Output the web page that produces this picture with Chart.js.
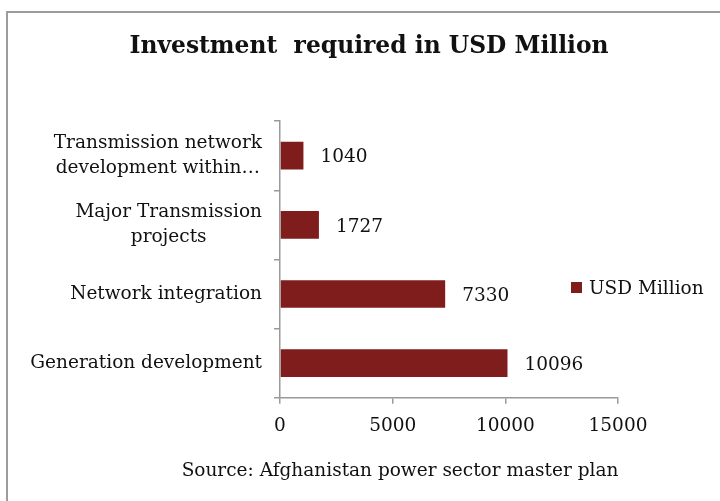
<!DOCTYPE html>
<html>
<head>
<meta charset="utf-8">
<script src="https://cdn.jsdelivr.net/npm/chart.js@4/dist/chart.umd.min.js"></script>
<style>
  html, body { margin: 0; padding: 0; background: #fff; }
  body { width: 720px; height: 501px; position: relative; overflow: hidden; font-family: "DejaVu Serif", serif; color: #111; }
  #frame { position: absolute; left: 6px; top: 11px; width: 760px; height: 540px; border-left: 2px solid #9c9c9c; border-top: 2px solid #9c9c9c; }
  #wrap { position: absolute; left: 0; top: 0; width: 720px; height: 501px; }
  #legend { position: absolute; left: 571px; top: 276px; font-size: 18.5px; line-height: 24px; white-space: nowrap; }
  #legend span.box { display: inline-block; width: 11px; height: 11px; margin-right: 7px; vertical-align: 1px; }
  #source { position: absolute; left: 0; width: 800px; top: 459px; text-align: center; font-size: 18.5px; }
</style>
</head>
<body>
<div id="frame"></div>
<div id="wrap"><canvas id="chart" width="720" height="501"></canvas></div>
<div id="legend"></div>
<div id="source">Source: Afghanistan power sector master plan</div>
<script>
const titleText = 'Investment  required in USD Million';
const seriesName = 'USD Million';
const categories = [
  ['Transmission network', 'development within…'],
  ['Major Transmission', 'projects'],
  'Network integration',
  'Generation development'
];
const investment = [1040, 1727, 7330, 10096];
const xTicks = [0, 5000, 10000, 15000];

const barColor = '#7f1c1c';
const axisColor = '#9a9a9a';
const serif = '"DejaVu Serif", serif';
const labelFont = '18.5px ' + serif;

// value written just past the end of each bar
const barValues = {
  id: 'barValues',
  afterDatasetsDraw(chart) {
    const ctx = chart.ctx;
    ctx.save();
    ctx.font = labelFont;
    ctx.fillStyle = '#111';
    ctx.textAlign = 'left';
    ctx.textBaseline = 'middle';
    chart.getDatasetMeta(0).data.forEach((bar, i) => {
      ctx.fillText(String(chart.data.datasets[0].data[i]), bar.x + 17, bar.y + 2);
    });
    ctx.restore();
  }
};

// category names: block sits right against the axis, lines centred inside the block
const categoryLabels = {
  id: 'categoryLabels',
  afterDraw(chart) {
    const scale = chart.scales.y;
    const ctx = chart.ctx;
    const lineH = 25;
    ctx.save();
    ctx.font = labelFont;
    ctx.fillStyle = '#111';
    ctx.textAlign = 'center';
    ctx.textBaseline = 'middle';
    chart.data.labels.forEach((label, i) => {
      const lines = Array.isArray(label) ? label : [label];
      const w = Math.max(...lines.map(s => ctx.measureText(s).width));
      const right = scale.right - 18;
      const cx = right - w / 2;
      const cy = scale.getPixelForValue(i);
      lines.forEach((s, k) => {
        ctx.fillText(s, cx, cy + (k - (lines.length - 1) / 2) * lineH);
      });
    });
    ctx.restore();
  }
};

const chart = new Chart(document.getElementById('chart'), {
  type: 'bar',
  data: {
    labels: categories,
    datasets: [{
      label: seriesName,
      data: investment,
      backgroundColor: barColor,
      borderWidth: 0,
      categoryPercentage: 1,
      barPercentage: 0.4
    }]
  },
  options: {
    indexAxis: 'y',
    responsive: false,
    animation: false,
    layout: { padding: { left: 18, right: 0, top: 0, bottom: 53 } },
    plugins: {
      legend: { display: false },
      tooltip: { enabled: false },
      title: {
        display: true,
        text: titleText,
        color: '#111',
        font: { family: serif, size: 23.4, weight: 'bold' },
        padding: { top: 33, bottom: 60 }
      }
    },
    scales: {
      x: {
        min: 0,
        max: 15000,
        afterBuildTicks(scale) { scale.ticks = xTicks.map(v => ({ value: v })); },
        afterFit(scale) { scale.paddingRight = 102; },
        grid: { drawOnChartArea: false, tickLength: 6, color: axisColor, lineWidth: 1.5 },
        border: { color: axisColor, width: 1.5 },
        ticks: {
          color: '#111',
          padding: 11,
          font: { family: serif, size: 18.5 },
          callback: v => String(v)
        }
      },
      y: {
        afterFit(scale) { scale.width = 262; },
        grid: { drawOnChartArea: false, offset: true, tickLength: 6, color: axisColor, lineWidth: 1.5 },
        border: { color: axisColor, width: 1.5 },
        ticks: { display: false }
      }
    }
  },
  plugins: [barValues, categoryLabels]
});

// legend entry built from the dataset
const ds = chart.data.datasets[0];
document.getElementById('legend').innerHTML =
  '<span class="box" style="background:' + ds.backgroundColor + '"></span>' + ds.label;
</script>
</body>
</html>
